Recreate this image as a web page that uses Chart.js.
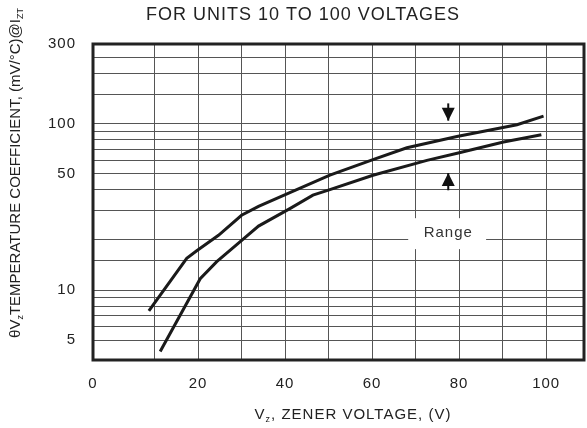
<!DOCTYPE html>
<html>
<head>
<meta charset="utf-8">
<script src="https://cdn.jsdelivr.net/npm/chart.js@4.4.1/dist/chart.umd.min.js"></script>
<style>
html, body { margin: 0; padding: 0; background: #fff; }
#wrap { width: 587px; height: 428px; }
</style>
</head>
<body>
<div id="wrap"><canvas id="chart"></canvas></div>
<script>
// Vz temperature coefficient vs zener voltage (upper / lower limits)

const upperV  = [8.7, 17.4, 19.7, 24.7, 30.0, 33.9, 41.1, 50.3, 60.2, 68.0, 79.5, 93.3, 99.4];
const upperTC = [7.5, 15.5, 17.2, 21.3, 28.1, 31.8, 38.5, 48.9, 60.7, 71.5, 83.6, 98.2, 110.6];

const lowerV  = [11.3, 20.5, 24.3, 29.7, 33.9, 41.1, 46.4, 50.3, 60.2, 72.6, 79.8, 90.2, 98.9];
const lowerTC = [4.27, 11.7, 14.8, 19.5, 24.2, 30.8, 37.1, 40.1, 48.9, 60.0, 66.4, 77.3, 85.5];

const xMin = -4.14, xMax = 108.7;
const xGrid = [10, 20, 30, 40, 50, 60, 70, 80, 90, 100];
const xLabels = ['20', '40', '60', '80', '100'];

const yMin = 3.8, yMax = 300;
const yGrid = [5, 6, 7, 8, 9, 10, 15, 20, 30, 40, 50, 60, 70, 80, 90, 100, 150, 200, 250, 300];
const yLabels = [5, 10, 50, 100, 300];

// range marker (in data units)
const arrowX = 77.5;
const downArrow = [132, 104];   // tail, tip
const upArrow = [39.7, 50.4];
const rangeBox = { x1: 68.3, x2: 86.2, y1: 27.0, y2: 17.6, textY: 21.9 };

function toPts(xs, ys) {
    return xs.map((x, i) => ({ x: x, y: ys[i] }));
}

// draws text made of pieces, some subscripted, centred at x,y
function drawParts(ctx, parts, x, y, size) {
    let widths = parts.map(p => {
        ctx.font = (p.sub ? size * 0.6 : size) + 'px "Liberation Sans", Arial, sans-serif';
        return ctx.measureText(p.t).width;
    });
    let total = widths.reduce((a, b) => a + b, 0);
    let cx = x - total / 2;
    ctx.textAlign = 'left';
    ctx.textBaseline = 'alphabetic';
    parts.forEach((p, i) => {
        ctx.font = (p.sub ? size * 0.6 : size) + 'px "Liberation Sans", Arial, sans-serif';
        ctx.fillText(p.t, cx, y + (p.sub ? size * 0.2 : 0));
        cx += widths[i];
    });
}

const extras = {
    id: 'extras',
    beforeDraw(chart) {
        chart.ctx.letterSpacing = '1px';
    },
    beforeDatasetsDraw(chart) {
        const ctx = chart.ctx, xs = chart.scales.x, ys = chart.scales.y;
        let l = xs.getPixelForValue(rangeBox.x1), r = xs.getPixelForValue(rangeBox.x2);
        let t = ys.getPixelForValue(rangeBox.y1), b = ys.getPixelForValue(rangeBox.y2);
        ctx.save();
        ctx.fillStyle = '#fff';
        ctx.fillRect(l, t, r - l, b - t);
        ctx.fillStyle = '#333';
        ctx.font = '15px "Liberation Sans", Arial, sans-serif';
        ctx.textAlign = 'center';
        ctx.textBaseline = 'middle';
        ctx.fillText('Range', xs.getPixelForValue(arrowX), ys.getPixelForValue(rangeBox.textY));
        ctx.restore();
    },
    afterDatasetsDraw(chart) {
        const ctx = chart.ctx, xs = chart.scales.x, ys = chart.scales.y;
        let ax = xs.getPixelForValue(arrowX);
        ctx.save();
        ctx.strokeStyle = '#111';
        ctx.fillStyle = '#111';
        ctx.lineWidth = 2;
        [downArrow, upArrow].forEach(a => {
            let tail = ys.getPixelForValue(a[0]);
            let tip = ys.getPixelForValue(a[1]);
            let dir = tip > tail ? 1 : -1;
            ctx.beginPath();
            ctx.moveTo(ax, tail);
            ctx.lineTo(ax, tip);
            ctx.stroke();
            ctx.beginPath();
            ctx.moveTo(ax, tip);
            ctx.lineTo(ax - 6.5, tip - dir * 13);
            ctx.lineTo(ax + 6.5, tip - dir * 13);
            ctx.closePath();
            ctx.fill();
        });
        ctx.restore();
    },
    afterDraw(chart) {
        const ctx = chart.ctx, a = chart.chartArea;
        ctx.save();
        ctx.strokeStyle = '#222';
        ctx.lineWidth = 3;
        ctx.strokeRect(a.left, a.top, a.right - a.left, a.bottom - a.top);

        ctx.fillStyle = '#222';
        ctx.letterSpacing = '1px';
        drawParts(ctx, [{ t: 'FOR UNITS 10 TO 100 VOLTAGES' }], 303, 20, 18);
        drawParts(ctx, [{ t: 'V' }, { t: 'z', sub: true }, { t: ', ZENER VOLTAGE, (V)' }], 353, 419, 15);

        ctx.letterSpacing = '0px';
        ctx.translate(20, 173);
        ctx.rotate(-Math.PI / 2);
        drawParts(ctx, [
            { t: '\u03b8V' }, { t: 'z', sub: true },
            { t: 'TEMPERATURE COEFFICIENT, (mV/\u00b0C)@I' }, { t: 'ZT', sub: true }
        ], 0, 0, 15);
        ctx.restore();
    }
};

new Chart(document.getElementById('chart'), {
    type: 'line',
    data: {
        datasets: [{
            label: 'upper',
            data: toPts(upperV, upperTC),
            borderColor: '#1a1a1a',
            borderWidth: 3,
            pointRadius: 0,
            tension: 0,
            fill: false
        }, {
            label: 'lower',
            data: toPts(lowerV, lowerTC),
            borderColor: '#1a1a1a',
            borderWidth: 3,
            pointRadius: 0,
            tension: 0,
            fill: false
        }]
    },
    options: {
        responsive: true,
        maintainAspectRatio: false,
        animation: false,
        layout: { padding: { top: 44, right: 3, left: 0, bottom: 0 } },
        plugins: {
            legend: { display: false },
            tooltip: { enabled: false },
            title: { display: false }
        },
        scales: {
            x: {
                type: 'linear',
                min: xMin,
                max: xMax,
                afterBuildTicks: s => {
                    s.ticks = [{ value: xMin }].concat(xGrid.map(v => ({ value: v })));
                },
                afterFit: s => { s.height = 68; },
                ticks: {
                    autoSkip: false,
                    maxRotation: 0,
                    padding: 15,
                    color: '#222',
                    font: { family: '"Liberation Sans", Arial, sans-serif', size: 15 },
                    callback: v => v === xMin ? '0' : (xLabels.includes(String(v)) ? String(v) : '')
                },
                grid: { color: '#555', lineWidth: 1, drawTicks: false },
                border: { display: false }
            },
            y: {
                type: 'logarithmic',
                min: yMin,
                max: yMax,
                afterBuildTicks: s => {
                    s.ticks = yGrid.map(v => ({ value: v }));
                },
                afterFit: s => { s.width = 93; },
                ticks: {
                    autoSkip: false,
                    padding: 17,
                    color: '#222',
                    font: { family: '"Liberation Sans", Arial, sans-serif', size: 15 },
                    callback: v => yLabels.includes(v) ? String(v) : ''
                },
                grid: { color: '#555', lineWidth: 1, drawTicks: false },
                border: { display: false }
            }
        }
    },
    plugins: [extras]
});
</script>
</body>
</html>
